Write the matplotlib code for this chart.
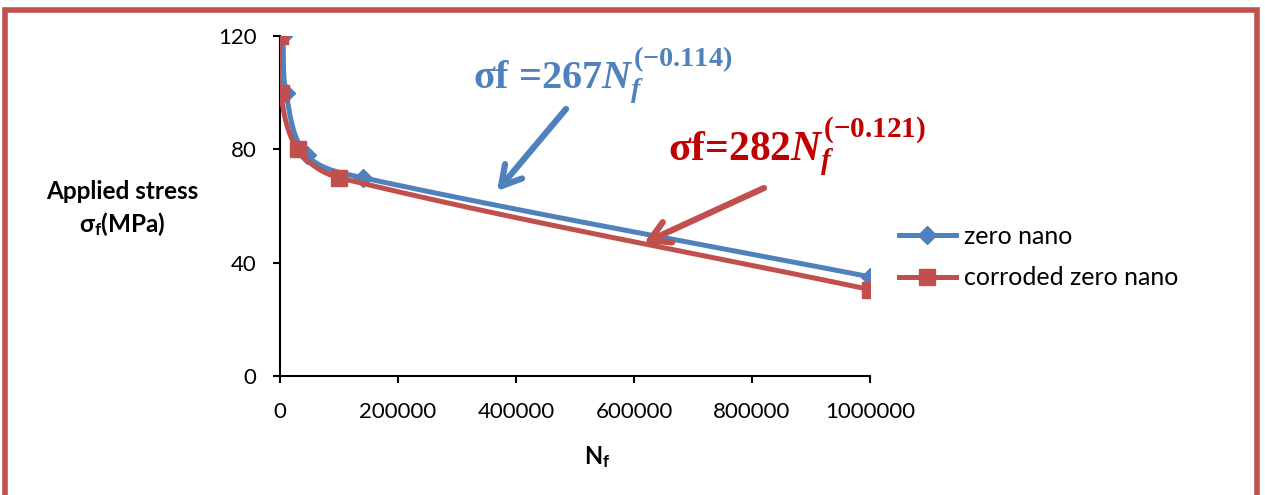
import numpy as np
import matplotlib.pyplot as plt
from matplotlib.patches import Rectangle, FancyArrowPatch

# values
nf_zero = [5000, 10000, 45000, 140000, 1000000]
stress_zero = [120, 100, 78, 70, 35]
nf_corr = [200, 1000, 30000, 100000, 1000000]
stress_corr = [120, 100, 80, 70, 30.5]

x_ticks = [0, 200000, 400000, 600000, 800000, 1000000]
y_ticks = [0, 40, 80, 120]

blue = '#4F81BD'
red = '#C0504D'

plt.rcParams['font.family'] = ['Lato', 'DejaVu Sans']
plt.rcParams['mathtext.fontset'] = 'custom'
plt.rcParams['mathtext.it'] = 'Liberation Serif:italic:bold'
plt.rcParams['mathtext.rm'] = 'Liberation Serif:bold'
plt.rcParams['mathtext.bf'] = 'Liberation Serif:bold'

# px per data unit, used so the smoothing happens in screen space
SX = 590 / 1e6
SY = 340 / 120


def smooth(xs, ys, n=50):
    # bezier through the points, tangent from neighbours, handle = 1/3 segment
    p = np.column_stack([np.asarray(xs, float) * SX, np.asarray(ys, float) * SY])
    tang = np.zeros_like(p)
    for i in range(len(p)):
        a = p[max(i - 1, 0)]
        b = p[min(i + 1, len(p) - 1)]
        v = b - a
        tang[i] = v / np.linalg.norm(v)
    out = []
    t = np.linspace(0, 1, n)[:, None]
    for i in range(len(p) - 1):
        L = np.linalg.norm(p[i + 1] - p[i]) / 3
        c0, c3 = p[i], p[i + 1]
        c1 = c0 + tang[i] * L
        c2 = c3 - tang[i + 1] * L
        out.append((1 - t) ** 3 * c0 + 3 * (1 - t) ** 2 * t * c1
                   + 3 * (1 - t) * t ** 2 * c2 + t ** 3 * c3)
    out = np.vstack(out)
    return out[:, 0] / SX, out[:, 1] / SY


fig = plt.figure(figsize=(12.65, 4.95), dpi=100)
ax = fig.add_axes([280 / 1265, 1 - 376 / 495, 590 / 1265, 340 / 495])

bx, by = smooth(nf_zero, stress_zero)
ax.plot(bx, by, color=blue, lw=3.6, solid_capstyle='round', zorder=3)
ax.plot(nf_zero, stress_zero, ls='none', marker='D', ms=9, color=blue, zorder=3)

rx, ry = smooth(nf_corr, stress_corr)
ax.plot(rx, ry, color=red, lw=3.6, solid_capstyle='round', zorder=4)
ax.plot(nf_corr, stress_corr, ls='none', marker='s', ms=12, color=red, zorder=4)

ax.set_xlim(0, 1000000)
ax.set_ylim(0, 120)
ax.set_xticks(x_ticks)
ax.set_xticklabels([str(v) for v in x_ticks])
ax.set_yticks(y_ticks)
for s in ['top', 'right']:
    ax.spines[s].set_visible(False)
for s in ['left', 'bottom']:
    ax.spines[s].set_linewidth(1.5)
ax.tick_params(direction='out', length=5, width=1.5, labelsize=16)
ax.tick_params(axis='x', pad=14)
ax.tick_params(axis='y', pad=12)
for lab in ax.get_xticklabels() + ax.get_yticklabels():
    lab.set_clip_on(False)

# legend
h1, = ax.plot([], [], color=blue, lw=3.6, marker='D', ms=9)
h2, = ax.plot([], [], color=red, lw=3.6, marker='s', ms=12)
fig.legend([h1, h2], ['zero nano', 'corroded zero nano'], loc='center left',
           bbox_to_anchor=(876 / 1265, 1 - 257 / 495), frameon=False,
           fontsize=18, handlelength=2.3, labelspacing=0.75, handletextpad=0.3)

# axis titles
fig.text(122 / 1265, 1 - 209 / 495, 'Applied stress\nσ$_\\mathregular{f}$(MPa)',
         ha='center', va='center', fontsize=17.5, fontweight='bold', linespacing=1.3)
fig.text(597 / 1265, 1 - 457 / 495, 'N$_\\mathregular{f}$', ha='center', va='center',
         fontsize=17, fontweight='bold')

# equations
fig.text(473 / 1265, 1 - 76 / 495, 'σf =267$N_f^{(−0.114)}$', ha='left', va='center',
         fontsize=29, fontweight='bold', color=blue, family='Liberation Serif')
fig.text(668 / 1265, 1 - 146 / 495, 'σf=282$N_f^{(−0.121)}$', ha='left', va='center',
         fontsize=30, fontweight='bold', color='#C00000', family='Liberation Serif')

# arrows
for tail, tip, c in [((566, 109), (497, 191), blue), ((764, 188), (644, 243), red)]:
    fig.add_artist(FancyArrowPatch(
        (tail[0] / 1265, 1 - tail[1] / 495), (tip[0] / 1265, 1 - tip[1] / 495),
        transform=fig.transFigure, arrowstyle='->,head_length=14,head_width=8',
        lw=4.5, color=c, mutation_scale=1, shrinkA=0, shrinkB=0,
        capstyle='round', joinstyle='round'))

# outer frame
fig.add_artist(Rectangle((5 / 1265, -0.05), 1252 / 1265, 1.05 - 10 / 495,
                         transform=fig.transFigure, fill=False, edgecolor=red, lw=4))

fig.savefig('out.png', dpi=100)
